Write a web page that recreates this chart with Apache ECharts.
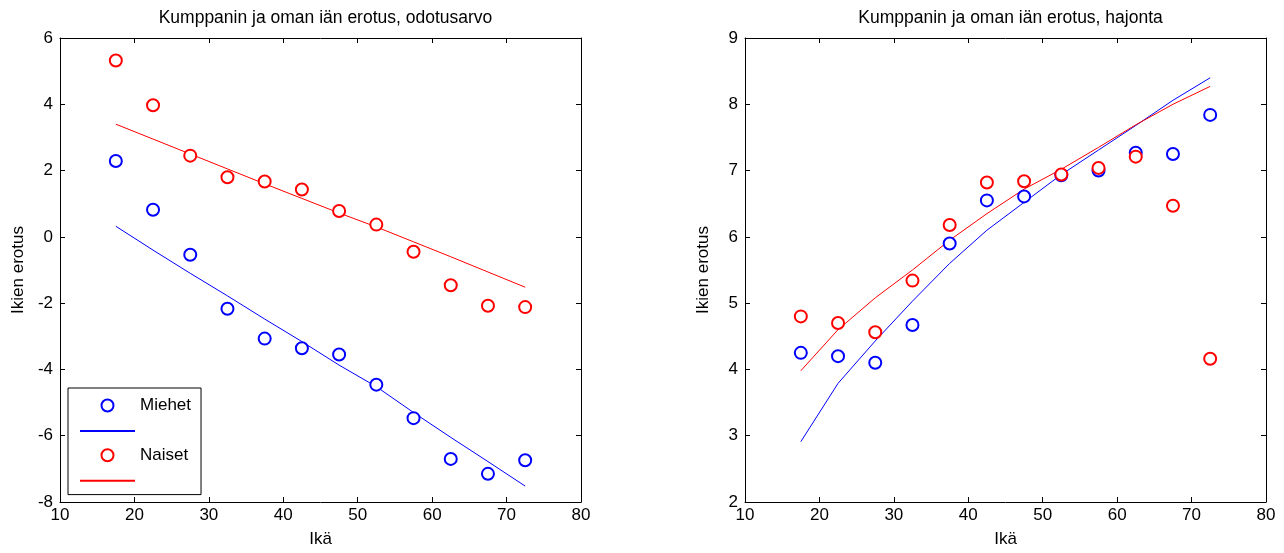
<!DOCTYPE html>
<html>
<head>
<meta charset="utf-8">
<script src="https://cdn.jsdelivr.net/npm/echarts@6/dist/echarts.min.js"></script>
<style>
	html, body { margin: 0; padding: 0; background: #fff; }
	#chart { width: 1284px; height: 553px; }
</style>
</head>
<body>
<div id="chart"></div>
<script>
const ages = [17.5, 22.5, 27.5, 32.5, 37.5, 42.5, 47.5, 52.5, 57.5, 62.5, 67.5, 72.5];

// odotusarvo (left)
const meanMen = [2.29, 0.82, -0.54, -2.17, -3.07, -3.36, -3.55, -4.46, -5.47, -6.7, -7.15, -6.74];
const meanWomen = [5.32, 3.97, 2.45, 1.8, 1.67, 1.43, 0.78, 0.37, -0.45, -1.46, -2.08, -2.12];
const meanFitMen = [0.32, -0.4, -1.1, -1.78, -2.48, -3.16, -3.87, -4.52, -5.3, -6.05, -6.78, -7.52];
const meanFitWomen = [3.4, 2.95, 2.5, 2.05, 1.6, 1.16, 0.72, 0.3, -0.15, -0.6, -1.06, -1.52];

// hajonta (right)
const sdMen = [4.25, 4.2, 4.1, 4.67, 5.9, 6.55, 6.61, 6.93, 7.0, 7.27, 7.25, 7.84];
const sdWomen = [4.8, 4.7, 4.56, 5.34, 6.18, 6.82, 6.84, 6.94, 7.04, 7.21, 6.47, 4.16];
const sdFitMen = [2.91, 3.79, 4.43, 5.03, 5.6, 6.1, 6.52, 6.94, 7.31, 7.68, 8.06, 8.4];
const sdFitWomen = [3.98, 4.6, 5.08, 5.5, 5.95, 6.35, 6.72, 7.02, 7.35, 7.69, 8.0, 8.27];

const titles = ["Kumppanin ja oman iän erotus, odotusarvo", "Kumppanin ja oman iän erotus, hajonta"];
const xName = "Ikä";
const yName = "Ikien erotus";

const pts = (ys) => ages.map((a, i) => [a, ys[i]]);

const font = "'Liberation Sans', Arial, sans-serif";
const black = "#000";
const blue = "#0000ff";
const red = "#ff0000";

const chart = echarts.init(document.getElementById("chart"), null, { renderer: "canvas" });

const grids = [
	{ left: 60, right: 703, top: 38, bottom: 49 },
	{ left: 745, right: 18, top: 38, bottom: 49 },
];

const yRanges = [
	{ min: -8, max: 6, interval: 2 },
	{ min: 2, max: 9, interval: 1 },
];

const xAxes = [];
const yAxes = [];
for (let g = 0; g < 2; g++) {
	for (const pos of ["bottom", "top"]) {
		xAxes.push({
			gridIndex : g,
			type      : "value",
			position  : pos,
			min       : 10,
			max       : 80,
			interval  : 10,
			name      : pos == "bottom" ? xName : "",
			nameLocation  : "middle",
			nameGap       : 29,
			nameTextStyle : { fontFamily: font, fontSize: 17, color: black },
			axisLine  : { show: true, onZero: false, lineStyle: { color: black, width: 1 } },
			axisTick  : { show: true, inside: true, length: 5, lineStyle: { color: black } },
			axisLabel : { show: pos == "bottom", fontFamily: font, fontSize: 17, color: black, margin: 5 },
			splitLine : { show: false },
		});
		yAxes.push({
			gridIndex : g,
			type      : "value",
			position  : pos == "bottom" ? "left" : "right",
			min       : yRanges[g].min,
			max       : yRanges[g].max,
			interval  : yRanges[g].interval,
			name      : pos == "bottom" ? yName : "",
			nameLocation  : "middle",
			nameGap       : 33,
			nameTextStyle : { fontFamily: font, fontSize: 17, color: black },
			axisLine  : { show: true, onZero: false, lineStyle: { color: black, width: 1 } },
			axisTick  : { show: true, inside: true, length: 5, lineStyle: { color: black } },
			axisLabel : { show: pos == "bottom", fontFamily: font, fontSize: 17, color: black, margin: 7 },
			splitLine : { show: false },
		});
	}
}

const scatter = (name, g, ys, color) => ({
	name       : name,
	type       : "scatter",
	xAxisIndex : g * 2,
	yAxisIndex : g * 2,
	data       : pts(ys),
	symbol     : "emptyCircle",
	symbolSize : 12,
	itemStyle  : { color: color, borderWidth: 1.2, opacity: 1 },
	z          : 3,
});

const fit = (name, g, ys, color) => ({
	name       : name,
	type       : "line",
	xAxisIndex : g * 2,
	yAxisIndex : g * 2,
	data       : pts(ys),
	symbol     : "none",
	lineStyle  : { color: color, width: 1 },
	itemStyle  : { color: color },
	z          : 2,
});

// fitted-line legend rows: line only, no dot
const lineEntry = (name) => ({ name: name, icon: "inherit", itemStyle: { opacity: 0, borderWidth: 0 } });

chart.setOption({
	animation       : false,
	backgroundColor : "#fff",
	title: titles.map((t, i) => ({
		text      : t,
		left      : grids[i].left + 260.5,
		textAlign : "center",
		top       : 4,
		textStyle : { fontFamily: font, fontSize: 17.5, fontWeight: "normal", color: black },
	})),
	legend: {
		orient      : "vertical",
		left        : 68,
		top         : 388,
		padding     : [9, 10, 9, 11],
		itemWidth   : 55,
		itemHeight  : 12,
		itemGap     : 11,
		borderColor : black,
		borderWidth : 1,
		backgroundColor : "#fff",
		data        : ["Miehet", lineEntry("Miehet sovite"), "Naiset", lineEntry("Naiset sovite")],
		formatter   : (name) => (name.endsWith("sovite") ? "" : name),
		textStyle   : { fontFamily: font, fontSize: 17, color: black },
	},
	grid  : grids,
	xAxis : xAxes,
	yAxis : yAxes,
	series: [
		fit("Miehet sovite", 0, meanFitMen, blue),
		fit("Naiset sovite", 0, meanFitWomen, red),
		scatter("Miehet", 0, meanMen, blue),
		scatter("Naiset", 0, meanWomen, red),
		fit("Miehet sovite", 1, sdFitMen, blue),
		fit("Naiset sovite", 1, sdFitWomen, red),
		scatter("Miehet", 1, sdMen, blue),
		scatter("Naiset", 1, sdWomen, red),
	],
});
</script>
</body>
</html>
